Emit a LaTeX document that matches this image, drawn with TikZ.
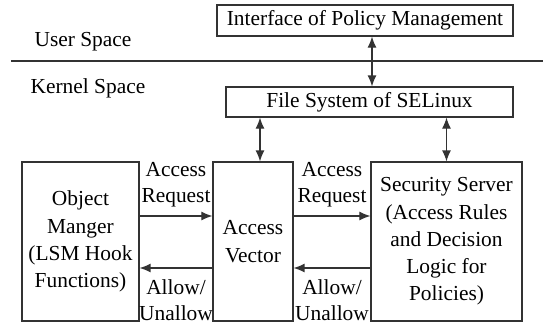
\documentclass[tikz,border=0pt]{standalone}
\usepackage{fontspec}
\setmainfont{Liberation Serif}
\usetikzlibrary{arrows.meta}
\usetikzlibrary{positioning}
\tikzstyle{block} = [draw=black!80, line width=0.6pt, rectangle, inner sep=0pt, align=center,
font=\fontsize{10.7}{13.6}\selectfont]
\tikzstyle{line} = [draw=black!80, line width=0.6pt, -{Latex[length=5.5pt,width=4.5pt]}]
\tikzstyle{dline} = [draw=black!80, line width=0.6pt, {Latex[length=5.5pt,width=4.5pt]}-{Latex[length=5.5pt,width=4.5pt]}]

\begin{document}
\begin{tikzpicture}[x=0.5pt, y=-0.5pt,
	label/.style={align=center, inner sep=0pt, font=\fontsize{10.7}{13}\selectfont}]
	\useasboundingbox (0,0) rectangle (543,322);
	%% Boxes
	\node [block, minimum width=148pt, minimum height=15.5pt] (iface) at (365,20.5) {Interface of Policy Management};
	\node [block, minimum width=143.5pt, minimum height=15pt] (fs) at (369.5,102) {File System of SELinux};
	\node [block, minimum width=58.5pt, minimum height=79.5pt] (om) at (80.5,241.5) {Object\\Manger\\(LSM Hook\\Functions)};
	\node [block, minimum width=40pt, minimum height=79.5pt] (av) at (253,241.5) {Access\\Vector};
	\node [block, minimum width=75.5pt, minimum height=79.5pt] (ss) at (446.5,241.5) {Security Server\\(Access Rules\\and Decision\\Logic for\\Policies)};
	%% Spaces
	\draw [black!80, line width=0.6pt] (11,61) -- (543,61);
	\node [label] (user) at (83,42) {User Space};
	\node [label] (kernel) at (88,88) {Kernel Space};
	%% Arrows
	\path [dline] (iface.south -| 372,0) -- (fs.north -| 372,0);
	\path [dline] (fs.south -| 260,0) -- (av.north -| 260,0);
	\path [dline] (fs.south -| ss.north) -- (ss.north);
	\path [line] (om.east |- 0,216) -- (av.west |- 0,216);
	\path [line] (av.west |- 0,268) -- (om.east |- 0,268);
	\path [line] (av.east |- 0,216) -- (ss.west |- 0,216);
	\path [line] (ss.west |- 0,268) -- (av.east |- 0,268);
	%% Labels
	\node [label] (req1) at (176,185) {Access\\Request};
	\node [label] (rep1) at (176,300) {Allow/\\Unallow};
	\node [label] (req2) at (332,185) {Access\\Request};
	\node [label] (rep2) at (332,300) {Allow/\\Unallow};
\end{tikzpicture}
\end{document}
